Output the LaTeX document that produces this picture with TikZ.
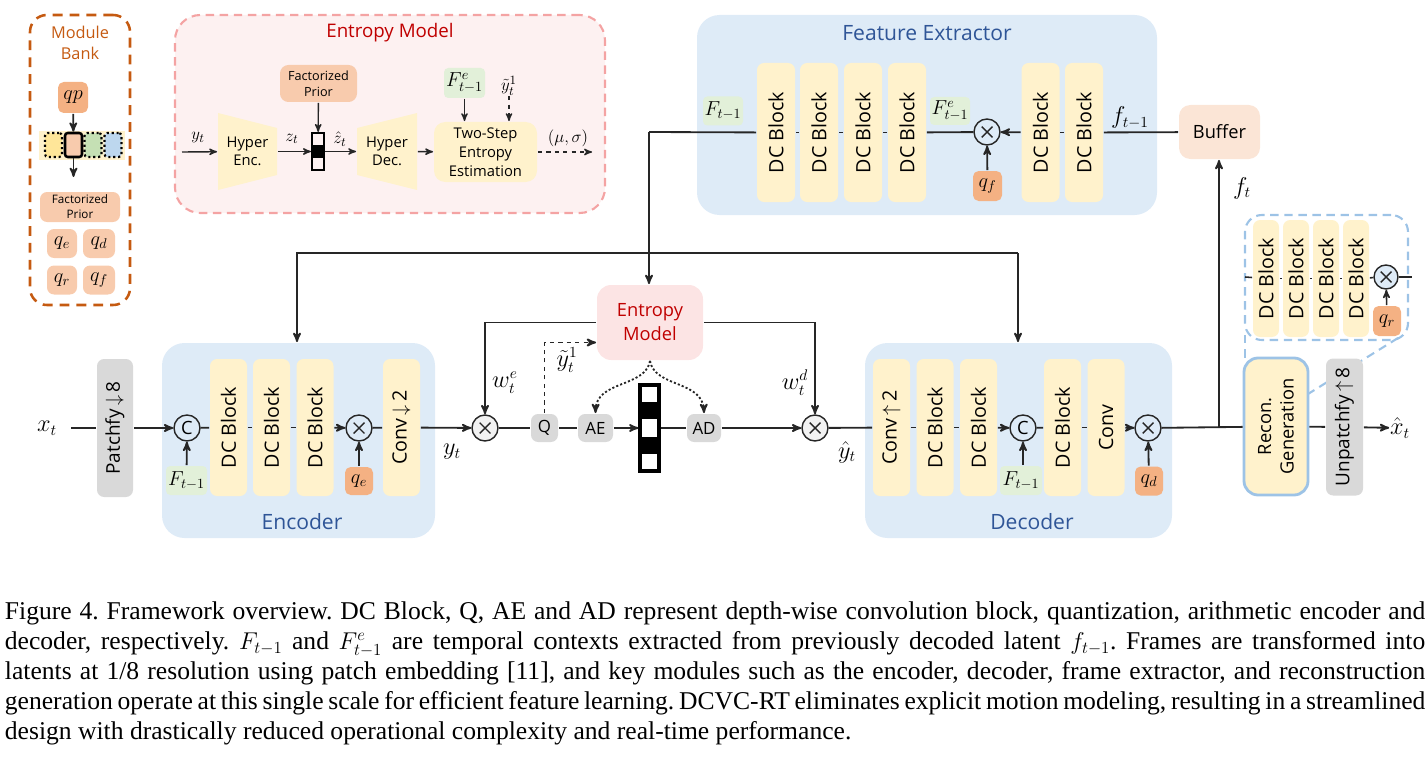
\documentclass[tikz,border=0pt]{standalone}
\usepackage{fontspec}
\setmainfont{Open Sans}
\newfontfamily\capfont{Liberation Serif}
\usepackage{amsmath}
\usetikzlibrary{positioning}
\usetikzlibrary{arrows}
\usetikzlibrary{calc}

\definecolor{linec}{HTML}{262626}
\definecolor{yelc}{HTML}{FFF2CC}
\definecolor{greyc}{HTML}{D9D9D9}
\definecolor{greenc}{HTML}{E2F0D9}
\definecolor{qc}{HTML}{F4B183}
\definecolor{fpc}{HTML}{F8CBAD}
\definecolor{panelc}{HTML}{DEEBF7}
\definecolor{titlec}{HTML}{2F5597}
\definecolor{emc}{HTML}{FCE4E4}
\definecolor{emtext}{HTML}{C00000}
\definecolor{embg}{HTML}{FDF1F1}
\definecolor{emline}{HTML}{F4A3A3}
\definecolor{bankc}{HTML}{C55A11}
\definecolor{bufc}{HTML}{FBE5D6}
\definecolor{insetc}{HTML}{9DC3E6}
\definecolor{lightg}{HTML}{F2F2F2}
\definecolor{slotyc}{HTML}{FFE699}
\definecolor{slotgc}{HTML}{C5E0B4}
\definecolor{slotbc}{HTML}{BDD7EE}

\newcommand\pu{0.025cm}
\newcommand\fsz[2]{\fontsize{#1}{#2}\selectfont}

\begin{document}
\begin{tikzpicture}[x=0.025cm,y=-0.025cm,>=stealth',line width=1.3pt,draw=linec,
	every node/.style={inner sep=0pt},
	wh/.style 2 args={minimum width=#1*\pu,minimum height=#2*\pu},
	dc/.style={fill=yelc,rounded corners=5pt,rotate=90,font=\fsz{14}{16}},
	gbox/.style={fill=greyc,rounded corners=5pt,font=\fsz{12}{14}},
	ctx/.style={fill=greenc,rounded corners=3pt,font=\fsz{14}{16}},
	qbox/.style={fill=qc,rounded corners=4pt,font=\fsz{14}{16}},
	bankq/.style={fill=fpc,rounded corners=5pt,font=\fsz{14}{16}},
	slot/.style={draw=black,dotted,line width=1.5pt,rounded corners=2pt,wh={17}{24}},
	mul/.style={circle,draw=linec,line width=1pt,minimum size=26*\pu,
		path picture={\draw[line width=1pt]
			([shift={(45:0.19cm)}]path picture bounding box.center) -- ([shift={(225:0.19cm)}]path picture bounding box.center)
			([shift={(135:0.19cm)}]path picture bounding box.center) -- ([shift={(-45:0.19cm)}]path picture bounding box.center);}},
	cat/.style={circle,draw=linec,line width=1pt,minimum size=26*\pu,font=\fsz{13}{13}},
	panel/.style={fill=panelc,rounded corners=16pt},
	ptitle/.style={text=titlec,font=\fsz{15}{18}},
	lbl/.style={font=\fsz{16}{18}},
	small/.style={font=\fsz{13}{15}},
	callout/.style={draw=insetc,dash pattern=on 6pt off 4pt,line width=1.5pt}]
	
	\useasboundingbox (0,0) rectangle (1428,762);
	
	% backgrounds
	\node[panel,wh={460}{200}] (fep) at (927,115) {};
	\node[panel,wh={273}{195}] (encp) at (298.5,440.5) {};
	\node[panel,wh={307}{195}] (decp) at (1018.5,440.5) {};
	\node[draw=emline,fill=embg,dash pattern=on 6pt off 4pt,line width=1.5pt,rounded corners=18pt,wh={430}{198}] (emp) at (390,114) {};
	\node[draw=bankc,dash pattern=on 7pt off 5pt,line width=1.8pt,rounded corners=12pt,wh={100}{290}] (bank) at (80,160) {};
	
	\node[ptitle] (fet) at (927,33) {Feature Extractor};
	\node[ptitle] (enct) at (302,522) {Encoder};
	\node[ptitle] (dect) at (1032,522) {Decoder};
	\node[text=emtext,font=\fsz{13.3}{16}] (empt) at (390,33) {Entropy Model};
	\node[text=bankc,font=\fsz{11.6}{15},align=center] (bankt) at (80,42.5) {Module\\Bank};
	
	% module bank
	\node[qbox,wh={30}{31}] (qp) at (73,97.5) {$qp$};
	\node[fill=yelc,wh={86}{29}] (strip) at (82,145.5) {};
	\node[slot,fill=slotyc] (sy) at (53.5,145) {};
	\node[fill=fpc,draw=black,line width=1.8pt,rounded corners=2pt,wh={17}{24}] (ss) at (73.5,145) {};
	\node[slot,fill=slotgc] (sg) at (93,145) {};
	\node[slot,fill=slotbc] (sb) at (113,145) {};
	\coordinate (sout) at (73.5,177);
	\node[fill=fpc,rounded corners=5pt,wh={80}{30},font=\fsz{8.3}{10.5},align=center] (fpb) at (80,207) {Factorized\\Prior};
	\node[bankq,wh={30}{29}] (bqe) at (62,243.5) {$q_e$};
	\node[bankq,wh={32}{29}] (bqd) at (99,243.5) {$q_d$};
	\node[bankq,wh={30}{29}] (bqr) at (62,280) {$q_r$};
	\node[bankq,wh={32}{29}] (bqf) at (99,280) {$q_f$};
	\draw[->] (qp) -- (ss);
	\draw[->] (ss) -- (sout);
	
	% entropy model (detail)
	\fill[yelc] (218,113) -- (277,128) -- (277,175) -- (218,190) -- cycle;
	\fill[yelc] (357,128) -- (417,113) -- (417,190) -- (357,175) -- cycle;
	\node[wh={59}{77},align=center,font=\fsz{10.5}{13}] (henc) at (247.5,151.5) {Hyper\\Enc.};
	\node[wh={60}{77},align=center,font=\fsz{10.5}{13}] (hdec) at (387,151.5) {Hyper\\Dec.};
	\node[fill=fpc,rounded corners=6pt,wh={77}{37},align=center,font=\fsz{9}{11.5}] (fprior) at (318.5,83.5) {Factorized\\Prior};
	\node[draw=black,line width=1.5pt,wh={12}{37}] (zbar) at (318,151.5) {};
	\fill (312,145.3) rectangle (324,157.7);
	\node[fill=yelc,rounded corners=8pt,wh={103}{60},align=center,font=\fsz{10.5}{13.6}] (tse) at (485.5,152) {Two-Step\\Entropy\\Estimation};
	\node[ctx,wh={41}{30}] (fee) at (464.5,83) {$F^e_{t-1}$};
	\node[small] (ytl) at (509,86) {$\tilde{y}_t^1$};
	\node[small] (yin) at (198,138) {$y_t$};
	\node[small] (zl) at (292,139) {$z_t$};
	\node[small] (zhl) at (340,139) {$\hat{z}_t$};
	\node[small] (ms) at (568,138) {$(\mu,\sigma)$};
	\coordinate (ystart) at (182,152);
	\coordinate (msend) at (592,152);
	
	\draw[->,line width=1pt] (ystart) -- (henc);
	\draw[->,line width=1pt] (henc) -- (zbar);
	\draw[->,line width=1pt] (fprior) -- (zbar);
	\draw[->,line width=1pt] (zbar) -- (hdec);
	\draw[->,line width=1pt] (hdec) -- (tse);
	\draw[->,line width=1pt] (fee) -- (fee |- tse.north);
	\draw[->,line width=1pt,dashed] (ytl) -- (ytl |- tse.north);
	\draw[->,line width=1pt,dashed] (tse) -- (msend);
	
	% feature extractor
	\node[dc,wh={139}{38}] (fe1) at (776,132.5) {DC Block};
	\node[dc,wh={139}{38}] (fe2) at (819,132.5) {DC Block};
	\node[dc,wh={139}{38}] (fe3) at (863,132.5) {DC Block};
	\node[dc,wh={139}{38}] (fe4) at (907,132.5) {DC Block};
	\node[dc,wh={139}{38}] (fe5) at (1040.5,132.5) {DC Block};
	\node[dc,wh={139}{38}] (fe6) at (1084,132.5) {DC Block};
	\node[ctx,wh={40}{29}] (fa) at (723,111) {$F_{t-1}$};
	\node[ctx,wh={40}{28}] (fb) at (950,111) {$F^e_{t-1}$};
	\node[mul,fill=panelc] (mf) at (987,132) {};
	\node[qbox,wh={29}{30}] (qf) at (987.5,186) {$q_f$};
	\node[lbl] (flab) at (1130,118) {$f_{t-1}$};
	\node[fill=bufc,rounded corners=8pt,wh={81}{54},font=\fsz{13}{15}] (buf) at (1219.5,132) {Buffer};
	\node[lbl] (ftl) at (1242,188) {$f_t$};
	\coordinate (fsplit) at (649,132);
	
	\draw (buf) -- (fe6);
	\draw (fe6) -- (fe5);
	\draw[->] (fe5) -- (mf);
	\draw (mf) -- (fe4);
	\draw (fe4) -- (fe3);
	\draw (fe3) -- (fe2);
	\draw (fe2) -- (fe1);
	\draw (fe1) -- (fsplit);
	\draw[->] (qf) -- (mf);
	
	% entropy model (main)
	\node[fill=emc,rounded corners=10pt,wh={106}{75},text=emtext,font=\fsz{13}{17},align=center] (em) at (650,322.5) {Entropy\\Model};
	\coordinate (ctxl) at (297,253);
	\coordinate (ctxr) at (1018,253);
	\draw[->] (fsplit) -- (fsplit |- em.north);
	\draw[->] (ctxr) -- (ctxl) -- (ctxl |- encp.north);
	\draw[->] (ctxr) -- (ctxr |- decp.north);
	
	% encoder
	\node[lbl] (xt) at (47,428) {$x_t$};
	\coordinate (xs) at (71,428);
	\node[gbox,rotate=90,wh={138}{36},font=\fsz{13.5}{16}] (patch) at (115,428) {Patchfy$\,\downarrow\,$8};
	\node[cat] (ce) at (187,428) {C};
	\node[ctx,wh={41}{29}] (fc) at (186.5,480.5) {$F_{t-1}$};
	\node[dc,wh={137}{37}] (e1) at (228.5,427.5) {DC Block};
	\node[dc,wh={137}{37}] (e2) at (271.5,427.5) {DC Block};
	\node[dc,wh={137}{37}] (e3) at (315,427.5) {DC Block};
	\node[mul,fill=panelc] (me) at (359,428) {};
	\node[qbox,wh={28}{28}] (qe) at (359,481) {$q_e$};
	\node[dc,wh={137}{37}] (cve) at (401.5,427.5) {Conv$\,\downarrow\,$2};
	\node[lbl] (ytlab) at (452,452) {$y_t$};
	
	% quantization and coding
	\node[mul,fill=lightg] (mwe) at (485,428) {};
	\node[lbl] (wel) at (505,383) {$w_t^e$};
	\node[gbox,wh={27}{28}] (qn) at (544.5,428) {Q};
	\node[lbl] (yt1) at (567,360) {$\tilde{y}_t^1$};
	\node[gbox,wh={35}{28}] (aen) at (595.5,428) {AE};
	\node[draw=black,line width=2.2pt,wh={19}{86}] (bar) at (649.5,428) {};
	\fill (640,402.2) rectangle (659,419.4);
	\fill (640,436.6) rectangle (659,453.8);
	\node[gbox,wh={34}{28}] (adn) at (704,428) {AD};
	\node[lbl] (wdl) at (795,383) {$w_t^d$};
	\node[mul,fill=lightg] (mwd) at (815,428) {};
	\node[lbl] (yhl) at (847,452) {$\hat{y}_t$};
	
	% decoder
	\node[dc,wh={137}{37}] (d0) at (891.5,427.5) {Conv$\,\uparrow\,$2};
	\node[dc,wh={137}{37}] (d1) at (935,427.5) {DC Block};
	\node[dc,wh={137}{37}] (d2) at (978.5,427.5) {DC Block};
	\node[cat] (cd) at (1023,428) {C};
	\node[ctx,wh={42}{29}] (fd) at (1021,480.5) {$F_{t-1}$};
	\node[dc,wh={137}{37}] (d3) at (1062.5,427.5) {DC Block};
	\node[dc,wh={137}{37}] (d4) at (1106,427.5) {Conv};
	\node[mul,fill=panelc] (md) at (1148,428) {};
	\node[qbox,wh={28}{29}] (qd) at (1149,481) {$q_d$};
	\coordinate (fj) at (1219,428);
	
	% reconstruction inset
	\node[draw=insetc,dash pattern=on 6pt off 4pt,line width=1.5pt,rounded corners=12pt,wh={163}{125}] (ins) at (1326.5,277.5) {};
	\draw[callout] (1245,335) -- (1245,358);
	\draw[callout] (1398,338) -- (1308,394);
	\coordinate (insl) at (1245,277);
	\coordinate (insr) at (1412,277);
	\node[dc,wh={117}{26}] (r1) at (1266,278.5) {DC Block};
	\node[dc,wh={117}{26}] (r2) at (1296,278.5) {DC Block};
	\node[dc,wh={117}{26}] (r3) at (1326,278.5) {DC Block};
	\node[dc,wh={117}{26}] (r4) at (1356,278.5) {DC Block};
	\node[mul,fill=panelc,minimum size=24*\pu] (mr) at (1386,277) {};
	\node[qbox,wh={28}{30}] (qr) at (1387,321) {$q_r$};
	\node[dc,draw=insetc,line width=2pt,rounded corners=10pt,wh={137}{64},font=\fsz{13}{16},align=center] (rec) at (1276,426.5) {Recon.\\Generation};
	\node[gbox,rotate=90,wh={137}{37},font=\fsz{13.5}{16}] (unp) at (1344.5,427) {Unpatchfy$\,\uparrow\,$8};
	\node[lbl] (xh) at (1400,428) {$\hat{x}_t$};
	
	\draw[line width=1.1pt] (insl) -- (r1);
	\draw[line width=1.1pt] (r1) -- (r2);
	\draw[line width=1.1pt] (r2) -- (r3);
	\draw[line width=1.1pt] (r3) -- (r4);
	\draw[line width=1.1pt] (r4) -- (mr);
	\draw[line width=1.1pt] (mr) -- (insr);
	\draw[->,line width=1.1pt] (qr) -- (mr);
	
	% main path
	\draw (xs) -- (patch);
	\draw[->] (patch) -- (ce);
	\draw (ce) -- (e1);
	\draw (e1) -- (e2);
	\draw (e2) -- (e3);
	\draw[->] (e3) -- (me);
	\draw (me) -- (cve);
	\draw[->] (cve) -- (mwe);
	\draw (mwe) -- (qn);
	\draw (qn) -- (aen);
	\draw[->] (aen) -- (bar);
	\draw (bar) -- (adn);
	\draw[->] (adn) -- (mwd);
	\draw (mwd) -- (d0);
	\draw (d0) -- (d1);
	\draw (d1) -- (d2);
	\draw[->] (d2) -- (cd);
	\draw (cd) -- (d3);
	\draw (d3) -- (d4);
	\draw[->] (d4) -- (md);
	\draw (md) -- (rec);
	\draw (rec) -- (unp);
	\draw[->] (unp) -- (xh);
	\draw[->] (fj) -- (fj |- buf.south);
	\draw[->] (fc) -- (ce);
	\draw[->] (qe) -- (me);
	\draw[->] (cd |- fd.north) -- (cd);
	\draw[->] (qd) -- (md);
	\draw[->] (em.west) -| (mwe);
	\draw[->] (em.east) -| (mwd);
	\draw[->,dashed] (qn) |- ([yshift=-0.5cm]em.west);
	\draw[->,dash pattern=on 1.5pt off 1.5pt] (em.south) .. controls (645,388) and (596,380) .. (aen.north);
	\draw[->,dash pattern=on 1.5pt off 1.5pt] (em.south) .. controls (655,388) and (703,380) .. (adn.north);
	
	% caption
	\node[anchor=north west,text width=35.5cm,align=justify,font=\capfont\fsz{18.2}{21.3}] (cap) at (4,601) {\frenchspacing\tolerance=9999
		Figure 4. Framework overview. DC Block, Q, AE and AD represent depth-wise convolution block, quantization, arithmetic encoder and\linebreak
		decoder, respectively. $F_{t-1}$ and $F^e_{t-1}$ are temporal contexts extracted from previously decoded latent $f_{t-1}$. Frames are transformed into\linebreak
		latents at 1/8 resolution using patch embedding [11], and key modules such as the encoder, decoder, frame extractor, and reconstruction\linebreak
		generation operate at this single scale for efficient feature learning. DCVC-RT eliminates explicit motion modeling, resulting in a streamlined\linebreak
		design with drastically reduced operational complexity and real-time performance.};
\end{tikzpicture}
\end{document}
